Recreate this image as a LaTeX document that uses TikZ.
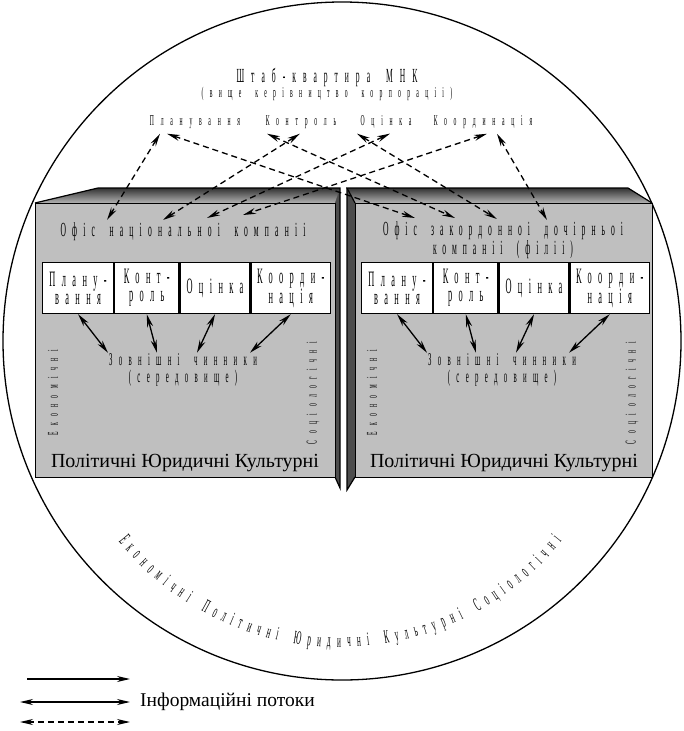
\documentclass[tikz,border=0pt]{standalone}
\usepackage{fontspec}
\setmainfont{Liberation Serif}
\newfontfamily\narrow[FakeStretch=0.38,WordSpace=1.8]{Liberation Serif}
\newcommand\narrowtext[3]{\narrow\fontsize{#1}{#2}\selectfont\addfontfeature{LetterSpace=#3}}
\usetikzlibrary{arrows.meta,decorations.text,positioning}

\tikzset{
  box/.style={draw=black, line width=1.2pt, fill=gray!50, inner sep=0pt},
  cell/.style={draw=black, line width=1.2pt, fill=white, minimum height=51, inner sep=0pt,
    align=center, font=\narrowtext{22}{18}{29}},
  lbl/.style={inner sep=1pt, font=\narrowtext{15}{16}{45}},
  flow/.style={{Stealth[length=13pt,width=6pt]}-{Stealth[length=13pt,width=6pt]}, line width=1.3pt},
  dflow/.style={flow, dash pattern=on 6pt off 4pt},
}

\begin{document}
\begin{tikzpicture}[x=1pt,y=-1pt]
  \useasboundingbox (0,0) rectangle (684,731);
  \def\shift{319}
  \draw[line width=1.3pt] (342,341) circle (339pt);
  % верх
  \node[lbl, font=\narrowtext{20}{20}{35}] (hq) at (327,77) {Штаб-квартира МНК};
  \node[lbl, font=\narrowtext{15}{16}{42}] (top) at (327,94) {(вище керівництво корпораціі)};
  \node[lbl] (plan) at (195,122) {Планування};
  \node[lbl] (ctrl) at (301,122) {Контроль};
  \node[lbl] (eval) at (386,122) {Оцінка};
  \node[lbl] (coord) at (483,122) {Координація};
  % лівий блок
  \fill[top color=black!80, bottom color=gray!60] (35,203) -- (98,188) -- (340,188) -- (335,203) -- cycle;
  \fill[black!70] (335,203) -- (340,188) -- (340,488) -- (335,477) -- cycle;
  \draw[line width=1.2pt] (35,203) -- (98,188) -- (340,188) -- (340,488) -- (335,477);
  \node[box, minimum width=300, minimum height=274, anchor=north west] (lbox) at (35,203) {};
  % правий блок
  \fill[top color=black!80, bottom color=gray!60] (347,188) -- (628,188) -- (652,203) -- (355,203) -- cycle;
  \fill[black!70] (347,188) -- (355,203) -- (355,477) -- (347,490) -- cycle;
  \draw[line width=1.2pt] (355,203) -- (347,188) -- (628,188) -- (652,203);
  \draw[line width=1.2pt] (347,188) -- (347,490) -- (355,477);
  \node[box, minimum width=297, minimum height=274, anchor=north west] (rbox) at (355,203) {};
  \node[lbl, font=\narrowtext{20}{15}{31}] (loff) at (183,232) {Офіс національноі компаніі};
  \node[lbl, font=\narrowtext{20}{15}{30}, align=center] (roff) at (503,240)
    {Офіс закордонноі дочірньоі\\компаніі (філіі)};
  \foreach \s/\dx in {L/0, R/\shift} {
      \node[cell, minimum width=71, anchor=north west] (\s c1) at (42+\dx,262) {Плану-\\вання};
      \node[cell, minimum width=64, right=0pt of \s c1] (\s c2) {Конт-\\роль};
      \node[cell, minimum width=70, right=0pt of \s c2] (\s c3) {Оцінка};
      \node[cell, minimum width=79, right=0pt of \s c3] (\s c4) {Коорди-\\нація};
      \node[lbl, font=\narrowtext{18}{18}{35}] (\s fac) at (183+\dx,360) {Зовнішні чинники};
      \node[lbl, font=\narrowtext{18}{18}{35}] (\s env) at (183+\dx,378) {(середовище)};
      \foreach \i/\sh in {1/-75, 2/-26, 3/14, 4/67} {
          \draw[flow] (\s c\i.south) -- ([xshift=\sh]\s fac.north); % обмін
      }
      \node[lbl, rotate=90, font=\narrowtext{15}{16}{43}] (\s eco) at (53+\dx,393) {Економічні};
      \node[lbl, rotate=90, font=\narrowtext{15}{16}{43}] (\s soc) at (313+\dx,393) {Соціологічні};
      \node[inner sep=1pt, font=\fontsize{20}{22}\selectfont] (\s pol) at (185+\dx,463) {Політичні Юридичні Культурні};
  }
  % пунктирні потоки
  \coordinate (La) at (107,220); \coordinate (Lb) at (163,220);
  \coordinate (Lc) at (207,218); \coordinate (Ld) at (243,215);
  \coordinate (Ra) at (415,218); \coordinate (Rb) at (455,218);
  \coordinate (Rc) at (497,219); \coordinate (Rd) at (547,220);
  \foreach \w/\sh/\e in {plan/-35/La, plan/-28/Ra, ctrl/-34/Rb, ctrl/-1/Lb,
                         eval/-29/Rc, eval/4/Lc, coord/4/Ld, coord/14/Rd} {
      \draw[dflow] ([xshift=\sh, yshift=-4]\w.south) -- (\e);
  }
  % дуга знизу
  \path[decorate, decoration={text along path, text align=fit to path,
      text={|\narrow\fontsize{19}{19}\selectfont|Економічні Політичні Юридичні Культурні Соціологічні}}]
    (340,362) ++(141:285) arc[start angle=141, end angle=39, radius=285];
  % легенда
  \coordinate (g1a) at (27,679); \coordinate (g1b) at (130,679);
  \coordinate (g2a) at (20,702); \coordinate (g2b) at (130,702);
  \coordinate (g3a) at (20,722); \coordinate (g3b) at (130,722);
  \draw[-{Stealth[length=13pt,width=6pt]}, line width=1.3pt] (g1a) -- (g1b);
  \draw[flow] (g2a) -- (g2b);
  \draw[dflow] (g3a) -- (g3b);
  \node[anchor=west, inner sep=0pt, font=\fontsize{19.5}{21}\selectfont] (info) at (140,702) {Інформаційні потоки};
\end{tikzpicture}
\end{document}
